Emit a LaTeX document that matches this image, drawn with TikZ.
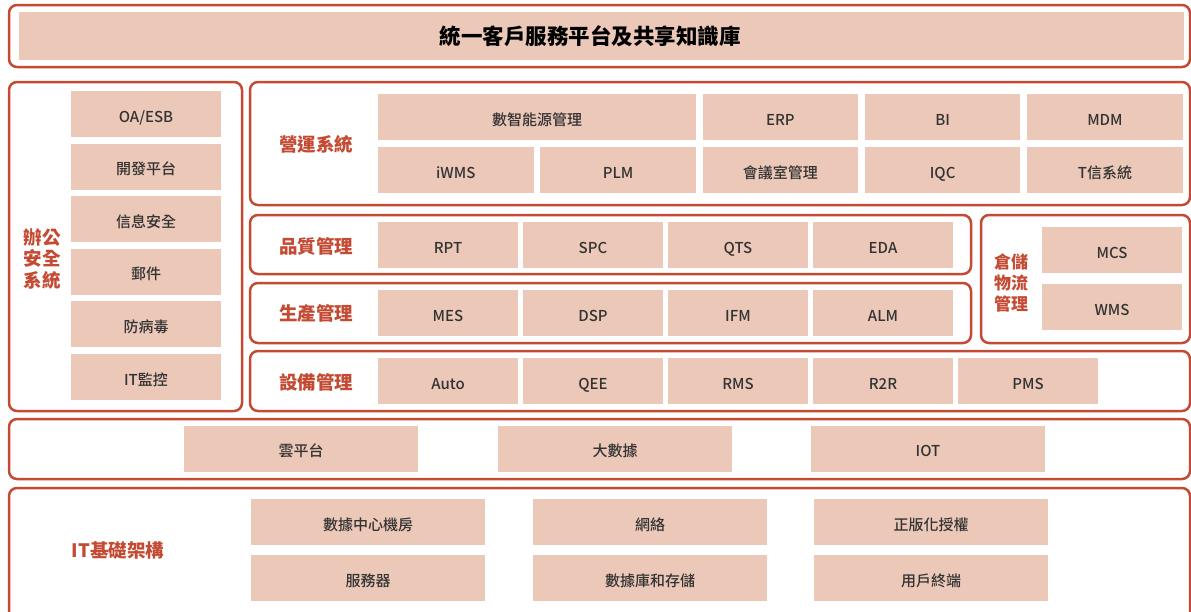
\documentclass[tikz,border=0pt]{standalone}
\usepackage{fontspec}
\setmainfont{Noto Sans CJK TC}
\newfontfamily\medfont{Noto Sans CJK TC}[UprightFont=* Medium]
\usepackage{tikz}
\definecolor{frameRed}{HTML}{C44B33}
\definecolor{boxFill}{HTML}{ECC8B8}
\definecolor{boxText}{HTML}{333333}

\begin{document}
\begin{tikzpicture}[x=1pt,y=-1pt,
      frame/.style={draw=frameRed,line width=2.5pt,rounded corners=8pt},
      item/.style={fill=boxFill,text=boxText,minimum height=46pt,inner sep=0pt,
        text height=16pt,text depth=0pt,font=\fontsize{15}{18}\medfont},
      grp/.style={text=frameRed,align=center,
        font=\fontsize{18.5}{21.5}\selectfont\bfseries}]
  \useasboundingbox (0,0) rectangle (1191,611);
  % top
  \draw[frame] (9,5) rectangle (1190,67);
  \node[item,minimum width=1165pt,minimum height=48pt] (title) at (601.5,36) {};
  \node[text=black,font=\fontsize{21.5}{24}\selectfont\bfseries] (titleText)
    at (590,36) {統一客戶服務平台及共享知識庫};
  % office
  \draw[frame] (9,82) rectangle (242,411);
  \node[grp] (office) at (42,259) {辦公\\安全\\系統};
  \foreach \t [count=\i from 0] in {OA/ESB,開發平台,信息安全,郵件,防病毒,IT監控}
    \node[item,minimum width=150pt] (off\i) at (146,114+52.6*\i) {\t};
  % operations
  \draw[frame] (250,82) rectangle (1190,205);
  \node[grp] (ops) at (316,144) {營運系統};
  \node[item,minimum width=318pt] (energy) at (537,117) {數智能源管理};
  \foreach \t [count=\i from 2] in {ERP,BI,MDM}
    \node[item,minimum width=155.5pt] (opsA\i) at (455.75+162.3*\i,117) {\t};
  \foreach \t [count=\i from 0] in {iWMS,PLM,會議室管理,IQC,T信系統}
    \node[item,minimum width=155.5pt] (opsB\i) at (455.75+162.3*\i,170) {\t};
  % quality
  \draw[frame] (250,215) rectangle (971,274);
  \node[grp] (qual) at (316,246) {品質管理};
  \foreach \t [count=\i from 0] in {RPT,SPC,QTS,EDA}
    \node[item,minimum width=140pt] (qual\i) at (448+145*\i,245) {\t};
  % production
  \draw[frame] (250,283) rectangle (971,343);
  \node[grp] (prod) at (316,313) {生產管理};
  \foreach \t [count=\i from 0] in {MES,DSP,IFM,ALM}
    \node[item,minimum width=140pt] (prod\i) at (448+145*\i,313) {\t};
  % warehouse
  \draw[frame] (981,215) rectangle (1190,343);
  \node[grp,font=\fontsize{17}{21}\selectfont\bfseries] (store) at (1011,283)
    {倉儲\\物流\\管理};
  \node[item,minimum width=140pt] (mcs) at (1112,250) {MCS};
  \node[item,minimum width=140pt] (wms) at (1112,307) {WMS};
  % equipment
  \draw[frame] (250,351) rectangle (1190,411);
  \node[grp] (equip) at (316,382) {設備管理};
  \foreach \t [count=\i from 0] in {Auto,QEE,RMS,R2R,PMS}
    \node[item,minimum width=140pt] (equip\i) at (448+145*\i,381) {\t};
  % cloud
  \draw[frame] (9,419) rectangle (1190,479);
  \foreach \t/\x [count=\i from 0] in {雲平台/301,大數據/615,IOT/928}
    \node[item,minimum width=234pt] (cloud\i) at (\x,448.5) {\t};
  % infrastructure
  \draw[frame] (9,488) rectangle (1190,625);
  \node[grp] (infra) at (118,551) {IT基礎架構};
  \foreach \t/\x [count=\i from 0] in {數據中心機房/368,網絡/650,正版化授權/931}
    \node[item,minimum width=234pt] (infA\i) at (\x,522) {\t};
  \foreach \t/\x [count=\i from 0] in {服務器/368,數據庫和存儲/650,用戶終端/931}
    \node[item,minimum width=234pt] (infB\i) at (\x,578) {\t};
\end{tikzpicture}
\end{document}
